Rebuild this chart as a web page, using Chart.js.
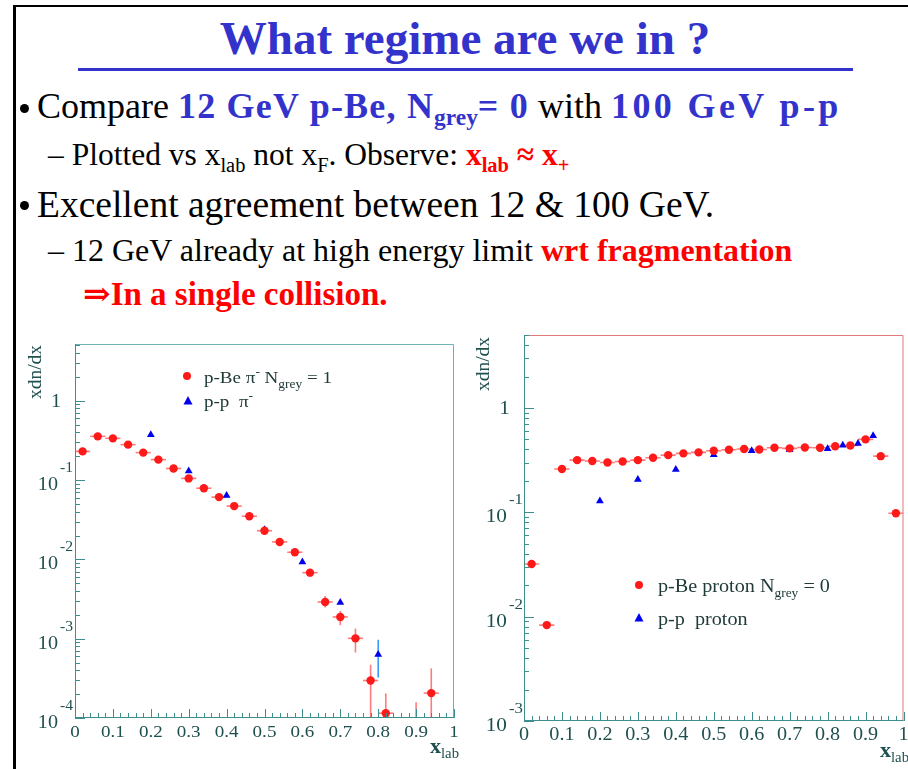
<!DOCTYPE html>
<html>
<head>
<meta charset="utf-8">
<script src="https://cdn.jsdelivr.net/npm/chart.js@4.4.1/dist/chart.umd.min.js"></script>
<style>
    body { margin: 0; background: #fff; width: 908px; height: 769px; overflow: hidden; position: relative; font-family: "Liberation Serif", "DejaVu Serif", serif; }
    .frame { position: absolute; left: 13px; top: 5px; width: 1000px; height: 900px; border-left: 3px solid #000; border-top: 2px solid #000; }
    .line { position: absolute; white-space: nowrap; line-height: 1; color: #000; }
    .dot { position: absolute; width: 9px; height: 9px; border-radius: 50%; background: #000; }
    .blue { color: #3333cc; font-weight: bold; }
    .red { color: #ff0000; font-weight: bold; }
    sub { font-size: 0.65em; vertical-align: baseline; position: relative; top: 0.32em; line-height: 0; letter-spacing: 0; }
    .title { position: absolute; left: 0; width: 930px; text-align: center; top: 15px; font-size: 47px; font-weight: bold; color: #3333cc; line-height: 1; }
    .rule { position: absolute; left: 78px; top: 68px; width: 775px; height: 3px; background: #3333cc; }
    .wrap { position: absolute; }
</style>
</head>
<body>
<div class="frame"></div>
<div class="title">What regime are we in ?</div>
<div class="rule"></div>

<div class="dot" style="left:20px;top:104px"></div>
<div class="line" style="left:37px;top:88px;font-size:36px">Compare <span class="blue" style="letter-spacing:1.2px">12 GeV p-Be, N<sub>grey</sub>= 0</span> with <span class="blue" style="letter-spacing:3.4px">100 GeV p-p</span></div>
<div class="line" style="left:48px;top:139px;font-size:31.5px">– Plotted vs x<sub>lab</sub> not x<sub>F</sub>. Observe: <span class="red">x<sub>lab</sub> ≈ x<sub>+</sub></span></div>
<div class="dot" style="left:20px;top:201px"></div>
<div class="line" style="left:37px;top:186px;font-size:37.5px">Excellent agreement between 12 &amp; 100 GeV.</div>
<div class="line" style="left:48px;top:234px;font-size:32px">– 12 GeV already at high energy limit <span class="red">wrt fragmentation</span></div>
<div class="line" style="left:83px;top:278px;font-size:33px"><span class="red">⇒In a single collision.</span></div>

<div class="wrap" style="left:0;top:330px;width:460px;height:439px"><canvas id="pion-chart"></canvas></div>
<div class="wrap" style="left:460px;top:330px;width:448px;height:439px"><canvas id="proton-chart"></canvas></div>

<script>
// x tick labels shared by both panels
const xTickLabels = ['0', '0.1', '0.2', '0.3', '0.4', '0.5', '0.6', '0.7', '0.8', '0.9', '1'];

// --- left panel: pi- ---
// p-Be pi-, N_grey = 1
const pionBeX   = [0.02, 0.06, 0.10, 0.14, 0.18, 0.22, 0.26, 0.30, 0.34, 0.38, 0.42, 0.46, 0.50, 0.54, 0.58, 0.62, 0.66, 0.70, 0.74, 0.78, 0.82, 0.90, 0.94];
const pionBeY   = [0.23, 0.356, 0.336, 0.28, 0.222, 0.181, 0.14, 0.105, 0.079, 0.061, 0.047, 0.035, 0.023, 0.0166, 0.0123, 0.0068, 0.0029, 0.00188, 0.00101, 0.000297, 0.000115, 0.00005, 0.000206];
const pionBeLo  = [null, null, null, null, null, null, null, null, null, null, null, null, null, null, null, 0.0062, 0.00247, 0.00148, 0.00067, 0.00001, 0.00001, 0.00001, 0.00001];
const pionBeHi  = [null, null, null, null, null, null, null, null, null, null, null, null, null, null, null, 0.0075, 0.00345, 0.00224, 0.00134, 0.00047, 0.000204, 0.000158, 0.000422];
// p-p pi-
const pionPpX   = [0.2, 0.3, 0.4, 0.5, 0.6, 0.7, 0.8];
const pionPpY   = [0.373, 0.13, 0.064, 0.0236, 0.0093, 0.00285, 0.00063];
const pionPpLo  = [null, null, null, null, null, null, 0.000325];
const pionPpHi  = [null, null, null, null, null, null, 0.00097];

// --- right panel: proton ---
// p-Be proton, N_grey = 0
const protonBeX = [0.02, 0.06, 0.10, 0.14, 0.18, 0.22, 0.26, 0.30, 0.34, 0.38, 0.42, 0.46, 0.50, 0.54, 0.58, 0.62, 0.66, 0.70, 0.74, 0.78, 0.82, 0.86, 0.90, 0.94, 0.98];
const protonBeY = [0.032, 0.0083, 0.26, 0.316, 0.31, 0.30, 0.307, 0.316, 0.333, 0.353, 0.367, 0.375, 0.389, 0.398, 0.404, 0.40, 0.415, 0.41, 0.418, 0.415, 0.43, 0.437, 0.50, 0.345, 0.098];
// p-p proton
const protonPpX = [0.2, 0.3, 0.4, 0.5, 0.6, 0.7, 0.8, 0.84, 0.88, 0.92];
const protonPpY = [0.128, 0.206, 0.257, 0.356, 0.389, 0.398, 0.406, 0.44, 0.457, 0.54];

const BIN_HALF = 0.02;
const SERIF = '"Liberation Serif", "DejaVu Serif", serif';

function toPoints(xs, ys) {
    return xs.map((x, i) => ({ x: x, y: ys[i] }));
}

/**
 * Draw a run of text pieces (sub/superscripts) with a horizontal stretch
 */
function drawRich(ctx, parts, x, y, align, stretch, color) {
    const widths = parts.map(p => {
        ctx.font = `${p.bold ? 'bold ' : ''}${p.size}px ${SERIF}`;
        return ctx.measureText(p.t).width;
    });
    const total = widths.reduce((a, b) => a + b, 0) * stretch;
    let sx = x;
    if (align === 'right') sx = x - total;
    if (align === 'center') sx = x - total / 2;
    ctx.save();
    ctx.translate(sx, y);
    ctx.scale(stretch, 1);
    ctx.fillStyle = color;
    ctx.textBaseline = 'alphabetic';
    let cx = 0;
    parts.forEach((p, i) => {
        ctx.font = `${p.bold ? 'bold ' : ''}${p.size}px ${SERIF}`;
        ctx.fillText(p.t, cx, p.dy || 0);
        cx += widths[i];
    });
    ctx.restore();
}

// horizontal bin-width bars and vertical error bars
const errorBarPlugin = {
    id: 'errorBars',
    beforeDatasetsDraw(chart) {
        const { ctx, chartArea: a, scales: { x, y } } = chart;
        ctx.save();
        ctx.beginPath();
        ctx.rect(a.left, a.top, a.right - a.left, a.bottom - a.top);
        ctx.clip();
        chart.data.datasets.forEach(ds => {
            ctx.strokeStyle = ds.errColor;
            ctx.lineWidth = 1.6;
            ds.data.forEach((pt, i) => {
                const px = x.getPixelForValue(pt.x);
                const py = y.getPixelForValue(pt.y);
                if (ds.xErr) {
                    ctx.beginPath();
                    ctx.moveTo(x.getPixelForValue(pt.x - ds.xErr), py);
                    ctx.lineTo(x.getPixelForValue(pt.x + ds.xErr), py);
                    ctx.stroke();
                }
                if (ds.errLo && ds.errLo[i] != null) {
                    ctx.beginPath();
                    ctx.moveTo(px, y.getPixelForValue(ds.errLo[i]));
                    ctx.lineTo(px, y.getPixelForValue(ds.errHi[i]));
                    ctx.stroke();
                }
            });
        });
        ctx.restore();
    }
};

// ROOT-style frame, inward ticks, labels, titles and legend
const rootAxesPlugin = {
    id: 'rootAxes',
    afterDraw(chart, args, o) {
        const { ctx, chartArea: a, scales: { x, y } } = chart;
        ctx.save();
        ctx.lineWidth = 1;
        // frame top and right
        ctx.strokeStyle = o.frameColor;
        ctx.beginPath();
        ctx.moveTo(a.left, a.top + 0.5);
        ctx.lineTo(a.right - 0.5, a.top + 0.5);
        ctx.lineTo(a.right - 0.5, a.bottom);
        ctx.stroke();
        // axis lines
        ctx.strokeStyle = o.axisColor;
        ctx.beginPath();
        ctx.moveTo(a.left + 0.5, a.top);
        ctx.lineTo(a.left + 0.5, a.bottom - 0.5);
        ctx.lineTo(a.right, a.bottom - 0.5);
        ctx.stroke();
        // x ticks every 0.02, longer every 0.1
        ctx.beginPath();
        for (let i = 0; i <= 50; i++) {
            const px = Math.round(x.getPixelForValue(i / 50)) + 0.5;
            const len = i % 5 === 0 ? 9 : 5;
            ctx.moveTo(px, a.bottom);
            ctx.lineTo(px, a.bottom - len);
        }
        // y log ticks
        for (let e = o.minExp; e <= o.maxExp; e++) {
            for (let m = 1; m <= 9; m++) {
                const v = m * Math.pow(10, e);
                if (v < y.min * 0.999 || v > y.max) continue;
                const py = Math.round(y.getPixelForValue(v)) + 0.5;
                const len = m === 1 ? 10 : 5;
                ctx.moveTo(a.left, py);
                ctx.lineTo(a.left + len, py);
            }
        }
        ctx.stroke();

        // x labels
        xTickLabels.forEach((lab, i) => {
            const px = x.getPixelForValue(i / 10);
            drawRich(ctx, [{ t: lab, size: o.labelSize }], px, a.bottom + 19, 'center', 1.12, o.labelColor);
        });
        // y labels
        for (let e = o.minExp; e <= 0; e++) {
            const py = y.getPixelForValue(Math.pow(10, e));
            if (e === 0) {
                drawRich(ctx, [{ t: '1', size: o.labelSize + 1 }], a.left - 14, py + 6, 'right', 1.12, o.labelColor);
            } else {
                drawRich(ctx, [{ t: '10', size: o.labelSize + 1 }], a.left - 17, py + 10, 'right', 1.12, o.labelColor);
                drawRich(ctx, [{ t: String(e), size: o.labelSize - 3 }], a.left - 15, py - 8, 'left', 1.12, o.labelColor);
            }
        }
        // y title (rotated)
        ctx.save();
        ctx.translate(o.yTitle.x, o.yTitle.y);
        ctx.rotate(-Math.PI / 2);
        drawRich(ctx, [{ t: 'xdn/dx', size: 18 }], 0, 6, 'center', 1.08, o.labelColor);
        ctx.restore();
        // x title
        drawRich(ctx, [{ t: 'x', size: 21, bold: true }, { t: 'lab', size: 14, dy: 5 }], o.xTitle.x, o.xTitle.y, 'left', 1.05, o.labelColor);

        // legend
        o.legend.forEach(item => {
            ctx.fillStyle = item.color;
            ctx.beginPath();
            if (item.marker === 'circle') {
                ctx.arc(item.mx, item.my, 4, 0, Math.PI * 2);
            } else {
                ctx.moveTo(item.mx, item.my - 5);
                ctx.lineTo(item.mx + 4.5, item.my + 3.5);
                ctx.lineTo(item.mx - 4.5, item.my + 3.5);
                ctx.closePath();
            }
            ctx.fill();
            drawRich(ctx, item.parts, item.tx, item.ty, 'left', 1.12, o.legendColor);
        });
        ctx.restore();
    }
};

function makeChart(canvasId, datasets, yMax, minExp, padding, axisOpts) {
    const ctx = document.getElementById(canvasId).getContext('2d');
    return new Chart(ctx, {
        type: 'scatter',
        data: { datasets: datasets },
        options: {
            responsive: true,
            maintainAspectRatio: false,
            devicePixelRatio: 1,
            animation: false,
            layout: { padding: padding },
            scales: {
                x: { type: 'linear', min: 0, max: 1, display: false },
                y: { type: 'logarithmic', min: Math.pow(10, minExp), max: yMax, display: false }
            },
            plugins: {
                legend: { display: false },
                tooltip: { enabled: false },
                rootAxes: Object.assign({ minExp: minExp, maxExp: 0 }, axisOpts)
            }
        },
        plugins: [errorBarPlugin, rootAxesPlugin]
    });
}

const RED = '#ff1a1a';
const BLUE = '#0000ee';

makeChart('pion-chart', [
    {
        label: 'p-Be pi- Ngrey = 1',
        data: toPoints(pionBeX, pionBeY),
        pointStyle: 'circle', pointRadius: 4.2, backgroundColor: RED, borderWidth: 0,
        xErr: BIN_HALF, errLo: pionBeLo, errHi: pionBeHi, errColor: '#ff7a7a'
    },
    {
        label: 'p-p pi-',
        data: toPoints(pionPpX, pionPpY),
        pointStyle: 'triangle', pointRadius: 4.5, backgroundColor: BLUE, borderWidth: 0,
        errLo: pionPpLo, errHi: pionPpHi, errColor: '#3a9cff'
    }
], 5.2, -4, { left: 75, right: 6, top: 14, bottom: 51 }, {
    frameColor: '#6fb0b0', axisColor: '#3f8e8e', labelColor: '#1f4f4f', legendColor: '#203a3a', labelSize: 17,
    yTitle: { x: 35, y: 42 }, xTitle: { x: 430, y: 423 },
    legend: [
        { marker: 'circle', color: RED, mx: 187, my: 46, tx: 204, ty: 53,
          parts: [{ t: 'p-Be π', size: 17 }, { t: '-', size: 12, dy: -7 }, { t: ' N', size: 17 }, { t: 'grey', size: 12, dy: 5 }, { t: ' = 1', size: 17 }] },
        { marker: 'triangle', color: BLUE, mx: 188, my: 71, tx: 204, ty: 77,
          parts: [{ t: 'p-p  π', size: 17 }, { t: '-', size: 12, dy: -7 }] }
    ]
});

makeChart('proton-chart', [
    {
        label: 'p-Be proton Ngrey = 0',
        data: toPoints(protonBeX, protonBeY),
        pointStyle: 'circle', pointRadius: 4.2, backgroundColor: RED, borderWidth: 0,
        xErr: BIN_HALF, errColor: '#ff7a7a'
    },
    {
        label: 'p-p proton',
        data: toPoints(protonPpX, protonPpY),
        pointStyle: 'triangle', pointRadius: 4.5, backgroundColor: BLUE, borderWidth: 0,
        errColor: '#3a9cff'
    }
], 5.0, -3, { left: 64, right: 3, top: 5, bottom: 48 }, {
    frameColor: '#e07a7a', axisColor: '#3f8e8e', labelColor: '#1f4f4f', legendColor: '#203a3a', labelSize: 18,
    yTitle: { x: 23, y: 34 }, xTitle: { x: 420, y: 427 },
    legend: [
        { marker: 'circle', color: RED, mx: 179, my: 255, tx: 198, ty: 262,
          parts: [{ t: 'p-Be proton N', size: 18 }, { t: 'grey', size: 12, dy: 5 }, { t: ' = 0', size: 18 }] },
        { marker: 'triangle', color: BLUE, mx: 179, my: 288, tx: 198, ty: 295,
          parts: [{ t: 'p-p  proton', size: 18 }] }
    ]
});
</script>
</body>
</html>
